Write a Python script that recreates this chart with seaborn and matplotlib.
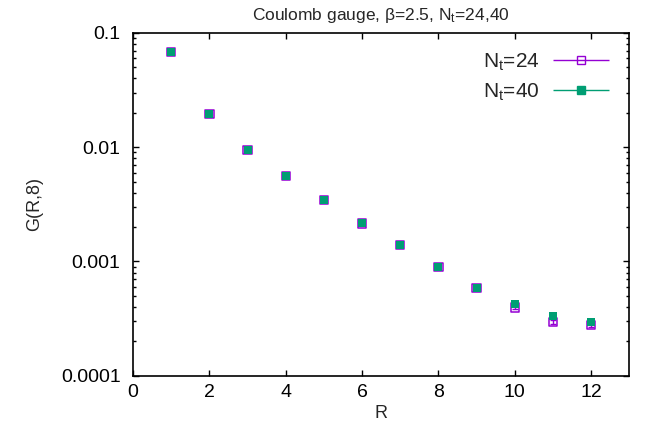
import numpy as np
import pandas as pd
import matplotlib
matplotlib.use("Agg")
import matplotlib.pyplot as plt
import seaborn as sns
from matplotlib.ticker import FixedLocator, LogLocator, NullFormatter
from matplotlib.legend_handler import HandlerErrorbar

# ===== DATA =====
R = [1, 2, 3, 4, 5, 6, 7, 8, 9, 10, 11, 12]
G_nt24 = [0.068, 0.0196, 0.0095, 0.0056, 0.00345, 0.00215, 0.00140, 0.000890,
          0.000585, 0.000395, 0.000295, 0.000280]
err_nt24 = [0.0004, 0.0001, 0.00005, 0.00003, 0.00002, 0.000015, 0.00001, 0.000008,
            0.000008, 0.000010, 0.000010, 0.000015]
G_nt40 = [0.068, 0.0196, 0.0095, 0.0056, 0.00345, 0.00215, 0.00140, 0.000895,
          0.000590, 0.000425, 0.000335, 0.000295]
err_nt40 = [0.0003, 0.0001, 0.00004, 0.00002, 0.00002, 0.00001, 0.00001, 0.000006,
            0.000006, 0.000008, 0.000008, 0.000010]

df = pd.DataFrame({
    "R": R * 2,
    "G": G_nt24 + G_nt40,
    "err": err_nt24 + err_nt40,
    "Nt": ["24"] * len(R) + ["40"] * len(R),
})

purple = "#9400d3"
green = "#009e73"

# ===== STYLE =====
sns.set_style("ticks")
plt.rcParams["font.family"] = ["Liberation Sans", "DejaVu Sans"]
plt.rcParams["mathtext.default"] = "regular"

fig = plt.figure(figsize=(6.46, 4.38), dpi=100)
ax = fig.add_axes([0.206, 0.142, 0.768, 0.783])

# error bars
d24 = df[df.Nt == "24"]
d40 = df[df.Nt == "40"]
ax.errorbar(d24.R, d24.G, yerr=d24.err, fmt="none", ecolor=purple, elinewidth=1, capsize=2)
ax.errorbar(d40.R, d40.G, yerr=d40.err, fmt="none", ecolor=green, elinewidth=1, capsize=2)

# points
sns.scatterplot(data=d24, x="R", y="G", marker="s", s=36, facecolors="none",
                edgecolor=purple, linewidth=1.1, ax=ax, legend=False, zorder=3)
sns.scatterplot(data=d40, x="R", y="G", marker="s", s=28, color=green,
                edgecolor=green, linewidth=0, ax=ax, legend=False, zorder=4)

# ===== AXES =====
ax.set_yscale("log")
ax.set_xlim(0, 13)
ax.set_ylim(1e-4, 0.1)
ax.xaxis.set_major_locator(FixedLocator([0, 2, 4, 6, 8, 10, 12]))
ax.set_yticks([1e-4, 1e-3, 1e-2, 1e-1])
ax.set_yticklabels(["0.0001", "0.001", "0.01", "0.1"])
ax.yaxis.set_minor_locator(LogLocator(base=10, subs=np.arange(2, 10)))
ax.yaxis.set_minor_formatter(NullFormatter())
ax.tick_params(which="both", direction="in", top=True, right=True, labelsize=14,
               width=1, colors="black")
ax.tick_params(which="major", length=4.5)
ax.tick_params(which="minor", length=2.5)
ax.tick_params(axis="y", pad=9)
ax.tick_params(axis="x", pad=6)
for sp in ax.spines.values():
    sp.set_linewidth(1.2)
    sp.set_color("black")

ax.set_xlabel("R", fontsize=13, labelpad=3)
ax.set_ylabel("G(R,8)", fontsize=13, labelpad=13)
ax.set_title("Coulomb gauge, β=2.5, N$_t$=24,40", fontsize=12.5, pad=9)

# legend with horizontal error bars like gnuplot
h24 = ax.errorbar([], [], xerr=[], fmt="s", mfc="none", mec=purple, color=purple,
                  ms=6, capsize=4, elinewidth=1)
h40 = ax.errorbar([], [], xerr=[], fmt="s", mfc=green, mec=green, color=green,
                  ms=6, capsize=4, elinewidth=1)
ax.legend([h24, h40], ["N$_t$=24", "N$_t$=40"], loc="upper right", frameon=False,
          markerfirst=False, fontsize=15, handlelength=2.8, handletextpad=0.6,
          borderaxespad=0.5, labelspacing=0.4,
          handler_map={type(h24): HandlerErrorbar(xerr_size=1.35)})

fig.savefig("out.png", dpi=100)
